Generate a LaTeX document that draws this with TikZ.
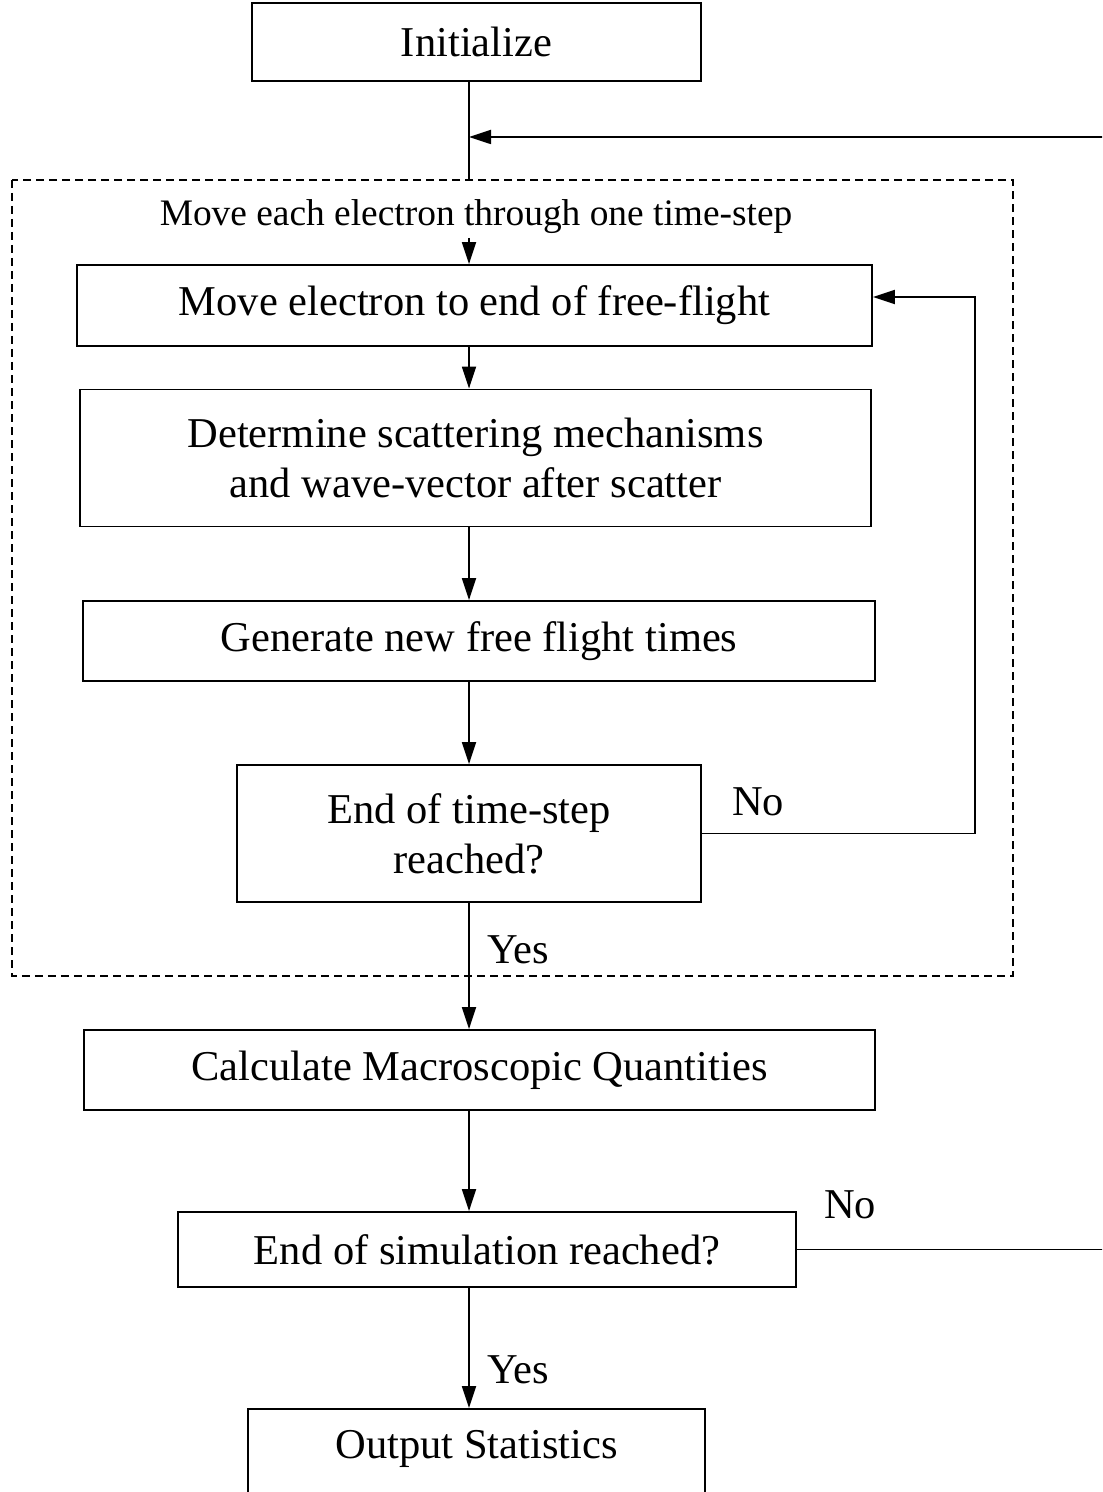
\documentclass[tikz,border=0pt]{standalone}
\usepackage{fontspec}
\setmainfont{Liberation Serif}
\usetikzlibrary{arrows.meta}
\tikzset{
  box/.style={draw, line width=0.9pt, inner sep=0pt, align=center},
  flow/.style={line width=0.9pt, -{Triangle[length=11pt,width=7pt]}},
  tag/.style={inner sep=0pt},
}
\begin{document}
\begin{tikzpicture}[x=0.5pt,y=-0.5pt,font=\fontsize{21.25}{25}\selectfont]
  \useasboundingbox (0,0) rectangle (1102,1492);
  \clip (0,0) rectangle (1102,1492);
  \coordinate (spine) at (469,0);

  % boxes
  \node[box, minimum width=224.5pt, minimum height=39pt] (init) at (476.5,42) {Initialize};
  \draw[dashed, line width=0.7pt, dash pattern=on 4pt off 2.5pt] (12,180) rectangle (1013,976);
  \node[tag, font=\fontsize{18.7}{22}\selectfont] (steplabel) at (476,217) {Move each electron through one time-step};
  \node[box, minimum width=397.5pt, minimum height=40.5pt] (move) at (474.5,305.5) {Move electron to end of free-flight};
  \node[box, minimum width=395.5pt, minimum height=68.5pt] (det) at (475.5,458) {Determine scattering mechanisms\\and wave-vector after scatter};
  \node[box, minimum width=396pt, minimum height=40pt] (gen) at (479,641) {Generate new free flight times};
  \node[box, minimum width=232pt, minimum height=68.5pt] (endstep) at (469,833.5) {End of time-step\\reached?};
  \node[box, minimum width=395.5pt, minimum height=40pt] (calc) at (479.5,1070) {Calculate Macroscopic Quantities};
  \node[box, minimum width=309pt, minimum height=37.5pt] (endsim) at (487,1249.5) {End of simulation reached?};
  \node[box, anchor=north, minimum width=228.5pt, minimum height=60pt, text depth=24.6pt] (output) at (476.5,1408) {Output Statistics};

  % labels
  \node[tag] (no1) at (758,802) {No};
  \node[tag] (yes1) at (518,950) {Yes};
  \node[tag] (no2) at (850,1205) {No};
  \node[tag] (yes2) at (518,1370) {Yes};

  % connectors
  \coordinate (gate) at (469,180);
  \coordinate (stepin) at (469,238);
  \coordinate (back) at (975,297);
  \coordinate (far) at (1130,137);
  \draw[line width=0.9pt] (init.south -| spine) -- (gate);
  \draw[flow] (stepin) -- (move.north -| spine);
  \draw[flow] (move.south -| spine) -- (det.north -| spine);
  \draw[flow] (det.south -| spine) -- (gen.north -| spine);
  \draw[flow] (gen.south -| spine) -- (endstep.north -| spine);
  \draw[flow] (endstep.south -| spine) -- (calc.north -| spine);
  \draw[flow] (calc.south -| spine) -- (endsim.north -| spine);
  \draw[flow] (endsim.south -| spine) -- (output.north -| spine);
  \draw[flow] (endstep.east) -| (back) -- (back -| move.east);
  \draw[flow] (endsim.east) -| (far) -- (far -| spine);
\end{tikzpicture}
\end{document}
